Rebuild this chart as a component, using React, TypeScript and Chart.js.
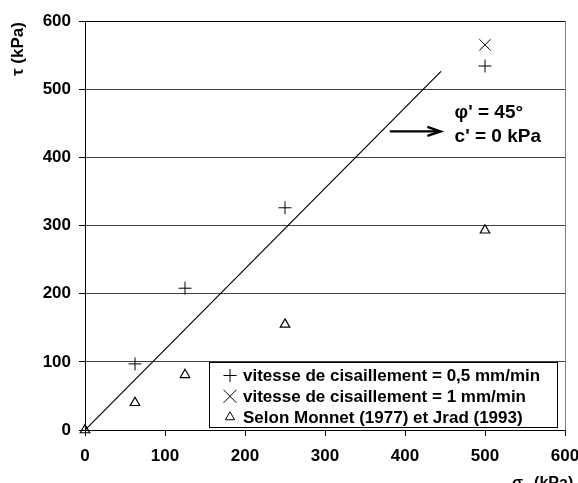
import React, { useEffect, useRef } from "react";
import { Chart, registerables } from "chart.js";

Chart.register(...registerables);

const plusX = [62.5, 125, 250, 500];
const plusY = [97, 208, 326, 534];
const crossX = [500];
const crossY = [565];
const triX = [0, 62.5, 125, 250, 500];
const triY = [0, 40, 81, 155, 293];
const lineX = [0, 445];
const lineY = [0, 526];
const xTicks = [0, 100, 200, 300, 400, 500, 600];
const yTicks = [0, 100, 200, 300, 400, 500, 600];

const labelPlus = "vitesse de cisaillement = 0,5 mm/min";
const labelCross = "vitesse de cisaillement = 1 mm/min";
const labelTri = "Selon Monnet (1977) et Jrad (1993)";
const annot1 = "φ' = 45°";
const annot2 = "c' = 0 kPa";
const yTitle = "τ (kPa)";

const FONT = "'Liberation Sans', Arial, sans-serif";

const zip = (xs: number[], ys: number[]) => xs.map((x, i) => ({ x, y: ys[i] }));

function drawMarker(ctx: CanvasRenderingContext2D, kind: string, x: number, y: number) {
  ctx.save();
  ctx.strokeStyle = "#000";
  ctx.lineWidth = 1;
  ctx.beginPath();
  if (kind === "plus") {
    const r = 6.5;
    ctx.moveTo(x - r, y);
    ctx.lineTo(x + r, y);
    ctx.moveTo(x, y - r);
    ctx.lineTo(x, y + r);
  } else if (kind === "x") {
    const r = 6.5;
    ctx.moveTo(x - r, y - r);
    ctx.lineTo(x + r, y + r);
    ctx.moveTo(x + r, y - r);
    ctx.lineTo(x - r, y + r);
  } else {
    const r = 5.3;
    ctx.moveTo(x, y - r);
    ctx.lineTo(x + 0.866 * r, y + 0.5 * r);
    ctx.lineTo(x - 0.866 * r, y + 0.5 * r);
    ctx.closePath();
  }
  ctx.stroke();
  ctx.restore();
}

const decorPlugin = {
  id: "decor",
  afterDraw(chart: any) {
    const { ctx, chartArea, scales } = chart;
    const xs = scales.x;
    const ys = scales.y;
    ctx.save();
    // right border
    ctx.strokeStyle = "#808080";
    ctx.lineWidth = 1;
    ctx.beginPath();
    ctx.moveTo(Math.round(chartArea.right) + 0.5, chartArea.top);
    ctx.lineTo(Math.round(chartArea.right) + 0.5, chartArea.bottom);
    ctx.stroke();

    // y title
    ctx.fillStyle = "#000";
    ctx.save();
    ctx.translate(18, 49);
    ctx.rotate(-Math.PI / 2);
    ctx.font = `bold 17px ${FONT}`;
    ctx.textAlign = "center";
    ctx.textBaseline = "middle";
    ctx.fillText(yTitle, 0, 0);
    ctx.restore();

    // x title: sigma_n (kPa)
    ctx.font = `bold 16px ${FONT}`;
    ctx.textAlign = "left";
    ctx.textBaseline = "alphabetic";
    let tx = 512;
    const by = 488;
    ctx.fillText("σ", tx, by);
    tx += ctx.measureText("σ").width;
    ctx.font = `bold 11px ${FONT}`;
    ctx.fillText("n", tx, by + 3);
    tx += ctx.measureText("n").width;
    ctx.font = `bold 16px ${FONT}`;
    ctx.fillText(" (kPa)", tx, by);

    // annotation arrow
    const ax0 = xs.getPixelForValue(381);
    const ax1 = xs.getPixelForValue(445.5);
    const ay = ys.getPixelForValue(438);
    ctx.strokeStyle = "#000";
    ctx.lineWidth = 2.2;
    ctx.beginPath();
    ctx.moveTo(ax0, ay);
    ctx.lineTo(ax1 - 1, ay);
    ctx.stroke();
    ctx.lineWidth = 2.5;
    ctx.lineJoin = "miter";
    ctx.beginPath();
    ctx.moveTo(ax1 - 14, ay - 4.5);
    ctx.lineTo(ax1 - 1, ay);
    ctx.lineTo(ax1 - 14, ay + 4.5);
    ctx.stroke();

    ctx.fillStyle = "#000";
    ctx.font = `bold 19px ${FONT}`;
    ctx.textBaseline = "middle";
    const tX = xs.getPixelForValue(462);
    ctx.fillText(annot1, tX, ys.getPixelForValue(466));
    ctx.fillText(annot2, tX, ys.getPixelForValue(430));

    // legend
    const lw = 348;
    const lh = 65;
    const lr = Math.round(chartArea.right) - 8;
    const lb = Math.round(chartArea.bottom) - 3;
    const lx = lr - lw;
    const ly = lb - lh;
    ctx.fillStyle = "#fff";
    ctx.fillRect(lx, ly, lw, lh);
    ctx.strokeStyle = "#000";
    ctx.lineWidth = 1;
    ctx.strokeRect(lx + 0.5, ly + 0.5, lw, lh);
    const rows = [
      { kind: "plus", label: labelPlus },
      { kind: "x", label: labelCross },
      { kind: "tri", label: labelTri },
    ];
    ctx.font = `bold 17px ${FONT}`;
    ctx.fillStyle = "#000";
    ctx.textBaseline = "middle";
    rows.forEach((r, i) => {
      const cy = ly + 13.5 + i * 20.8;
      drawMarker(ctx, r.kind, lx + 21, cy);
      ctx.fillText(r.label, lx + 34, cy + 1);
    });
    ctx.restore();
  },
};

export default function App() {
  const ref = useRef<HTMLCanvasElement>(null);
  useEffect(() => {
    if (!ref.current) return;
    const chart = new Chart(ref.current, {
      type: "scatter",
      data: {
        datasets: [
          {
            label: labelPlus,
            data: zip(plusX, plusY),
            pointStyle: "cross",
            pointRadius: 6.5,
            borderColor: "#000",
            backgroundColor: "#000",
            pointBorderWidth: 1,
            clip: false,
          },
          {
            label: labelCross,
            data: zip(crossX, crossY),
            pointStyle: "crossRot",
            pointRadius: 8,
            borderColor: "#000",
            backgroundColor: "#000",
            pointBorderWidth: 1,
            clip: false,
          },
          {
            label: labelTri,
            data: zip(triX, triY),
            pointStyle: "triangle",
            pointRadius: 5.5,
            borderColor: "#000",
            backgroundColor: "rgba(0,0,0,0)",
            pointBorderWidth: 1.2,
            clip: false,
          },
          {
            label: "line",
            data: zip(lineX, lineY),
            showLine: true,
            pointRadius: 0,
            borderColor: "#000",
            borderWidth: 1.2,
            tension: 0,
          },
        ],
      },
      options: {
        responsive: false,
        animation: false,
        devicePixelRatio: 1,
        layout: { padding: { left: 0, right: 13, top: 21, bottom: 0 } },
        plugins: { legend: { display: false }, tooltip: { enabled: false } },
        scales: {
          x: {
            type: "linear",
            min: 0,
            max: 600,
            afterBuildTicks: (s: any) => {
              s.ticks = xTicks.map((v) => ({ value: v }));
            },
            afterFit: (s: any) => {
              s.height = 53;
              s.paddingLeft = 0;
              s.paddingRight = 0;
            },
            ticks: {
              color: "#000",
              font: { family: FONT, size: 17, weight: "bold" },
              padding: 10,
              maxRotation: 0,
            },
            grid: { drawOnChartArea: false, drawTicks: true, tickLength: 6, color: "#000" },
            border: { color: "#000", width: 1 },
          },
          y: {
            type: "linear",
            min: 0,
            max: 600,
            afterBuildTicks: (s: any) => {
              s.ticks = yTicks.map((v) => ({ value: v }));
            },
            afterFit: (s: any) => {
              s.width = 85;
              s.paddingTop = 0;
              s.paddingBottom = 0;
            },
            ticks: {
              color: "#000",
              font: { family: FONT, size: 17, weight: "bold" },
              padding: 8,
            },
            grid: {
              drawTicks: true,
              tickLength: 6,
              color: (c: any) => (c.tick && c.tick.value === 600 ? "#000" : "#404040"),
              tickColor: "#000",
            },
            border: { color: "#000", width: 1 },
          },
        },
      },
      plugins: [decorPlugin],
    } as any);
    return () => chart.destroy();
  }, []);
  return (
    <div style={{ position: "absolute", left: 0, top: 0, width: 578, height: 483 }}>
      <canvas ref={ref} width={578} height={483} />
    </div>
  );
}
